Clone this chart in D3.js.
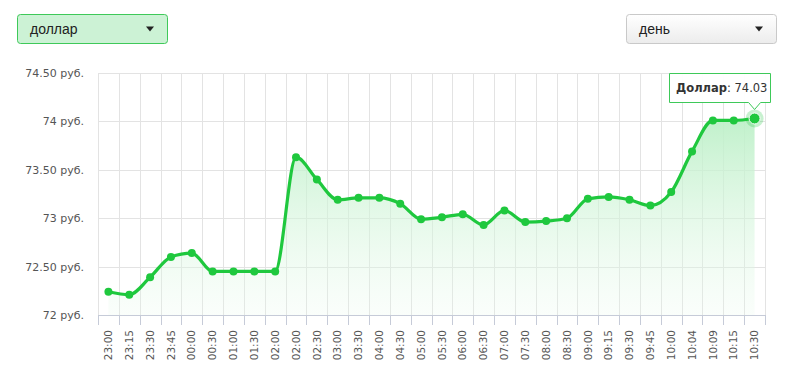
<!DOCTYPE html>
<html>
<head>
<meta charset="utf-8">
<script src="https://cdn.jsdelivr.net/npm/d3@7"></script>
<style>
  body { margin: 0; background: #fff; }
  svg { display: block; }
</style>
</head>
<body>
<svg id="chart" width="806" height="385"></svg>
<script>
// data
var times = ["23:00", "23:15", "23:30", "23:45", "00:00", "00:30", "01:00", "01:30",
    "02:00", "02:00", "02:30", "03:00", "03:30", "04:00", "04:30", "05:00",
    "05:30", "06:00", "06:30", "07:00", "07:30", "08:00", "08:30", "09:00",
    "09:15", "09:30", "09:45", "10:00", "10:04", "10:09", "10:15", "10:30"];
var rates = [72.24, 72.21, 72.39, 72.60, 72.64, 72.45, 72.45, 72.45,
    72.45, 73.63, 73.40, 73.19, 73.21, 73.21, 73.15, 72.99,
    73.01, 73.04, 72.93, 73.08, 72.96, 72.97, 73.00, 73.20,
    73.22, 73.19, 73.13, 73.27, 73.69, 74.01, 74.01, 74.03];
var yTicks = [72, 72.5, 73, 73.5, 74, 74.5];
var currencyLabel = "доллар";
var periodLabel = "день";
var seriesName = "Доллар";

var green = "#1fc83e";
var svg = d3.select("#chart");
var plotLeft = 98, plotRight = 765, plotTop = 73, plotBottom = 315;

var x = d3.scaleBand().domain(d3.range(times.length)).range([plotLeft, plotRight]);
var y = d3.scaleLinear().domain([72, 74.5]).range([plotBottom, plotTop]);

var defs = svg.append("defs");
var grad = defs.append("linearGradient").attr("id", "areaFill")
    .attr("x1", 0).attr("y1", 0).attr("x2", 0).attr("y2", 1);
grad.append("stop").attr("offset", "0%").attr("stop-color", "#bdf0c8").attr("stop-opacity", 0.95);
grad.append("stop").attr("offset", "100%").attr("stop-color", "#e6f9ea").attr("stop-opacity", 0.2);

var btnGrad = defs.append("linearGradient").attr("id", "btnFill")
    .attr("x1", 0).attr("y1", 0).attr("x2", 0).attr("y2", 1);
btnGrad.append("stop").attr("offset", "0%").attr("stop-color", "#ffffff");
btnGrad.append("stop").attr("offset", "100%").attr("stop-color", "#ececec");

// dropdowns
function dropdown(x0, w, label, fill, stroke) {
    var g = svg.append("g").attr("transform", "translate(" + x0 + ",14)");
    g.append("rect").attr("x", 0.5).attr("y", 0.5).attr("width", w).attr("height", 29)
        .attr("rx", 3).attr("fill", fill).attr("stroke", stroke);
    g.append("text").attr("x", 13).attr("y", 20)
        .style("font-family", "Liberation Sans, Arial, sans-serif").style("font-size", "14px")
        .attr("fill", "#222").text(label);
    g.append("path").attr("d", "M" + (w - 21) + ",12.5h8l-4,5z").attr("fill", "#222");
}
dropdown(17, 150, currencyLabel, "#ccf2d5", "#3ec959");
dropdown(626, 150, periodLabel, "url(#btnFill)", "#c9c9c9");

// grid
var gridX = function (d) { return Math.round(plotLeft + d * x.step()) + 0.5; };
svg.append("g").selectAll("line").data(d3.range(times.length + 1)).enter()
    .append("line")
    .attr("x1", gridX).attr("x2", gridX)
    .attr("y1", plotTop).attr("y2", plotBottom)
    .attr("stroke", "#e3e3e3");

svg.append("g").selectAll("line").data(yTicks).enter()
    .append("line")
    .attr("x1", plotLeft).attr("x2", plotRight)
    .attr("y1", function (d) { return Math.round(y(d)) + 0.5; })
    .attr("y2", function (d) { return Math.round(y(d)) + 0.5; })
    .attr("stroke", "#e3e3e3");

// y labels
svg.append("g").selectAll("text").data(yTicks).enter()
    .append("text")
    .attr("x", 84).attr("y", function (d) { return y(d) + 4; })
    .attr("text-anchor", "end")
    .style("font-family", "DejaVu Sans, Verdana, sans-serif").style("font-size", "11px")
    .attr("fill", "#555")
    .text(function (d) { return (d % 1 === 0 ? d : d.toFixed(2)) + " руб."; });

// area + line
var cx = function (d, i) { return x(i) + x.bandwidth() / 2; };
var area = d3.area().x(cx).y0(plotBottom).y1(function (d) { return y(d); }).curve(d3.curveMonotoneX);
var line = d3.line().x(cx).y(function (d) { return y(d); }).curve(d3.curveMonotoneX);

svg.append("path").datum(rates).attr("d", area).attr("fill", "url(#areaFill)");

// x axis
svg.append("line").attr("x1", plotLeft).attr("x2", plotRight + 1)
    .attr("y1", plotBottom + 0.5).attr("y2", plotBottom + 0.5).attr("stroke", "#c6cbd8");
svg.append("g").selectAll("line").data(d3.range(times.length + 1)).enter()
    .append("line")
    .attr("x1", gridX).attr("x2", gridX)
    .attr("y1", plotBottom).attr("y2", plotBottom + 10)
    .attr("stroke", "#c6cbd8");

svg.append("g").selectAll("text").data(times).enter()
    .append("text")
    .attr("transform", function (d, i) { return "translate(" + cx(d, i) + ",330) rotate(-90)"; })
    .attr("text-anchor", "end").attr("dy", "0.35em")
    .style("font-family", "DejaVu Sans, Verdana, sans-serif").style("font-size", "10.5px")
    .attr("fill", "#555")
    .text(function (d) { return d; });

svg.append("path").datum(rates).attr("d", line)
    .attr("fill", "none").attr("stroke", green).attr("stroke-width", 3.2)
    .attr("stroke-linejoin", "round");

svg.append("g").selectAll("circle").data(rates.slice(0, -1)).enter()
    .append("circle")
    .attr("cx", cx).attr("cy", function (d) { return y(d); })
    .attr("r", 4).attr("fill", green);

// hovered last point
var li = rates.length - 1;
var lx = cx(rates[li], li), ly = y(rates[li]);
svg.append("circle").attr("cx", lx).attr("cy", ly).attr("r", 9)
    .attr("fill", green).attr("fill-opacity", 0.25);
svg.append("circle").attr("cx", lx).attr("cy", ly).attr("r", 5.5)
    .attr("fill", green).attr("stroke", "#fff").attr("stroke-width", 1);

// tooltip
var tip = svg.append("g");
var tx0 = 669.5, ty0 = 73.5, tw = 101, th = 29;
tip.append("path")
    .attr("d", "M" + tx0 + "," + ty0 + "h" + tw + "v" + th +
        "H" + (lx + 6) + "l-6,7l-6,-7H" + tx0 + "z")
    .attr("fill", "#fff").attr("fill-opacity", 0.95)
    .attr("stroke", "#3ec959").attr("stroke-width", 1);
var tt = tip.append("text").attr("x", 676).attr("y", 92)
    .style("font-family", "DejaVu Sans, Verdana, sans-serif").style("font-size", "11.5px")
    .attr("fill", "#333");
tt.append("tspan").style("font-weight", "bold").text(seriesName);
tt.append("tspan").text(": " + rates[li].toFixed(2));
</script>
</body>
</html>
